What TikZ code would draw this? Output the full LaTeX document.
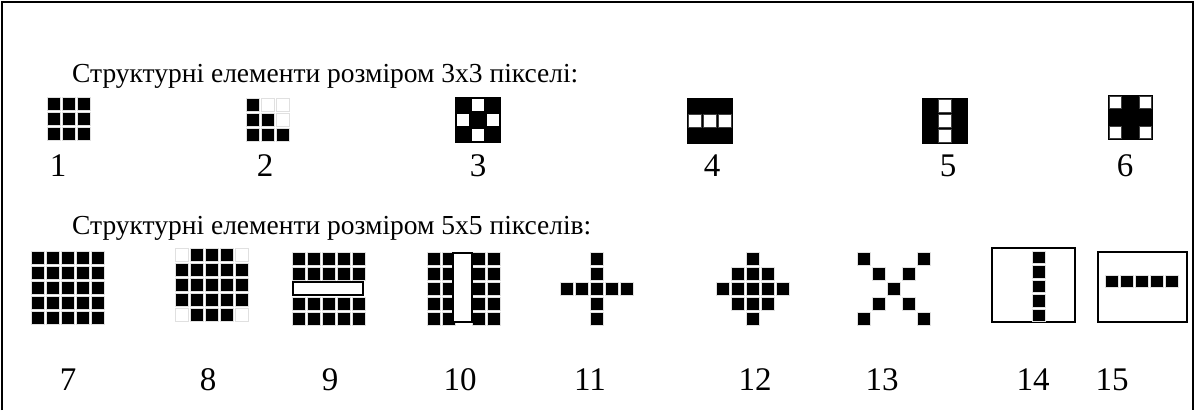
\documentclass[tikz,border=0pt]{standalone}
\usepackage{fontspec}
\setmainfont{Liberation Serif}
\begin{document}
\begin{tikzpicture}[x=1pt,y=-1pt,
  cellb/.style={fill=black,draw=black!12,line width=1pt},
  cellw/.style={fill=white,draw=black!12,line width=1pt},
  holew/.style={fill=white,draw=black!75,line width=0.8pt},
  txt/.style={font=\fontsize{27.5}{33}\selectfont,inner sep=0pt,anchor=base west},
  num/.style={font=\fontsize{33}{38}\selectfont,inner sep=0pt,anchor=base}]
\useasboundingbox (0,0) rectangle (1195,410);
\draw[line width=1.5pt] (2,410) -- (2,2) -- (1193,2) -- (1193,410);
% titles
\node[txt] (t1) at (72,82) {Структурні елементи розміром 3x3 пікселі:};
\node[txt] (t2) at (72,234) {Структурні елементи розміром 5x5 пікселів:};
% row 1 numbers
\node[num] (n1) at (58,176) {1};
\node[num] (n2) at (265,176) {2};
\node[num] (n3) at (478,176) {3};
\node[num] (n4) at (712,176) {4};
\node[num] (n5) at (948,176) {5};
\node[num] (n6) at (1125,176) {6};
% row 2 numbers
\node[num] (n7) at (68,390) {7};
\node[num] (n8) at (208,390) {8};
\node[num] (n9) at (330,390) {9};
\node[num] (n10) at (460,390) {10};
\node[num] (n11) at (590,390) {11};
\node[num] (n12) at (755,390) {12};
\node[num] (n13) at (882,390) {13};
\node[num] (n14) at (1033,390) {14};
\node[num] (n15) at (1112,390) {15};
% element 1
\foreach \i in {0,1,2} \foreach \j in {0,1,2}
  \draw[cellb] ({47+15*\i},{97+15*\j}) rectangle ++(13,13);
% element 2
\foreach \i in {0,1,2} \foreach \j in {0,1,2} {
  \ifnum\i>\j
    \draw[cellw] ({246+15*\i},{98+15*\j}) rectangle ++(13,13);
  \else
    \draw[cellb] ({246+15*\i},{98+15*\j}) rectangle ++(13,13);
  \fi}
% element 3
\fill[black] (455,97) rectangle ++(46,46);
\foreach \i/\j in {1/0,0/1,2/1,1/2}
  \fill[white] ({455+15*\i+2},{97+15*\j+2}) rectangle ++(12,12);
% element 4
\fill[black] (687,98) rectangle ++(46,46);
\foreach \i in {0,1,2}
  \draw[holew] ({687+15*\i+1.5},{98+15+1}) rectangle ++(13,13);
% element 5
\fill[black] (922,98) rectangle ++(46,46);
\foreach \j in {0,1,2}
  \draw[holew] ({922+15+1},{98+15*\j+1.5}) rectangle ++(13,13);
% element 6
\fill[black] (1108,95) rectangle ++(45,45);
\foreach \i/\j in {0/0,2/0,0/2,2/2}
  \draw[holew] ({1108+15*\i+1.5},{95+15*\j+1.5}) rectangle ++(12,12);
% element 7
\foreach \i in {0,...,4} \foreach \j in {0,...,4}
  \draw[cellb] ({31+15*\i},{251+15*\j}) rectangle ++(13,13);
% element 8
\foreach \i in {0,...,4} \foreach \j in {0,...,4} {
  \pgfmathtruncatemacro\corner{((\i==0)||(\i==4))&&((\j==0)||(\j==4))}
  \ifnum\corner=1
    \draw[cellw] ({175+15*\i},{248+15*\j}) rectangle ++(13,13);
  \else
    \draw[cellb] ({175+15*\i},{248+15*\j}) rectangle ++(13,13);
  \fi}
% element 9
\foreach \i in {0,...,4} \foreach \j in {0,1,3,4}
  \draw[cellb] ({292+15*\i},{252+15*\j}) rectangle ++(13,13);
\draw[fill=white,line width=1.2pt] (293,282) rectangle (363,295);
% element 10
\foreach \i in {0,1,3,4} \foreach \j in {0,...,4}
  \draw[cellb] ({427+15*\i},{252+15*\j}) rectangle ++(13,13);
\draw[fill=white,line width=1.2pt] (453,253) rectangle (472,322);
% element 11
\foreach \i/\j in {2/0,2/1,0/2,1/2,2/2,3/2,4/2,2/3,2/4}
  \draw[cellb] ({560+15*\i},{252+15*\j}) rectangle ++(13,13);
% element 12
\foreach \i/\j in {2/0,1/1,2/1,3/1,0/2,1/2,2/2,3/2,4/2,1/3,2/3,3/3,2/4}
  \draw[cellb] ({716+15*\i},{252+15*\j}) rectangle ++(13,13);
% element 13
\foreach \i/\j in {0/0,4/0,1/1,3/1,2/2,1/3,3/3,0/4,4/4}
  \draw[cellb] ({857+15*\i},{252+15*\j}) rectangle ++(13,13);
% element 14
\draw[line width=1.5pt] (992,248) rectangle (1075,322);
\foreach \j in {0,...,4}
  \draw[cellb] (1032,{251+14.5*\j}) rectangle ++(13,12.5);
% element 15
\draw[line width=1.5pt] (1098,252) rectangle (1187,322);
\foreach \i in {0,...,4}
  \draw[cellb] ({1105+15*\i},275) rectangle ++(13,12.5);
\end{tikzpicture}
\end{document}
